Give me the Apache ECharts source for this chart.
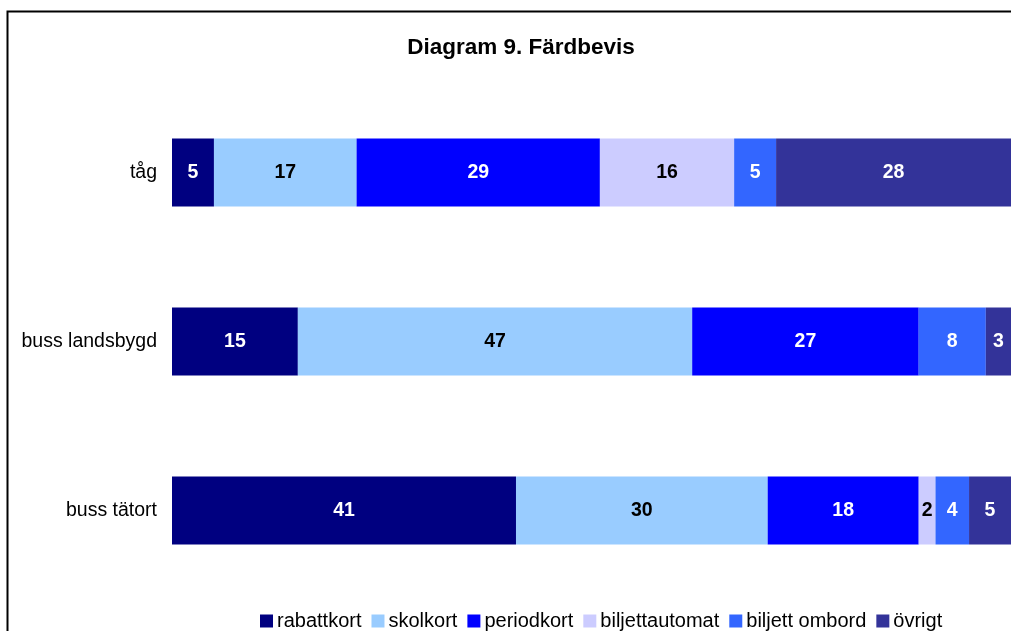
<!DOCTYPE html>
<html>
<head>
<meta charset="utf-8">
<script src="https://cdn.jsdelivr.net/npm/echarts@6/dist/echarts.min.js"></script>
<style>
  html, body { margin: 0; padding: 0; background: #fff; }
  #chart { width: 1011px; height: 631px; }
</style>
</head>
<body>
<div id="chart"></div>
<script>
// rader, nerifrån och upp (y-axeln ritas från botten)
const categories = ['buss tätort', 'buss landsbygd', 'tåg']
const seriesNames = ['rabattkort', 'skolkort', 'periodkort', 'biljettautomat', 'biljett ombord', 'övrigt']
const colors = ['#000080', '#99ccff', '#0000ff', '#ccccff', '#3366ff', '#333399']
const labelColors = ['#fff', '#000', '#fff', '#000', '#fff', '#fff']

const rabattkort = [41, 15, 5]
const skolkort = [30, 47, 17]
const periodkort = [18, 27, 29]
const biljettautomat = [2, 0, 16]
const biljettOmbord = [4, 8, 5]
const ovrigt = [5, 3, 28]

const values = [rabattkort, skolkort, periodkort, biljettautomat, biljettOmbord, ovrigt]

const chart = echarts.init(document.getElementById('chart'), null, { renderer: 'canvas' })

const font = 'Liberation Sans, Arial, sans-serif'

let option = {
  backgroundColor: '#fff',
  animation: false,
  title: {
    text: 'Diagram 9. Färdbevis',
    left: 516,
    top: 31,
    textAlign: 'center',
    textStyle: { fontFamily: font, fontSize: 22.5, fontWeight: 'bold', color: '#000' }
  },
  graphic: [{
    type: 'rect',
    shape: { x: 7.5, y: 11.5, width: 1100, height: 700 },
    style: { fill: 'none', stroke: '#000', lineWidth: 2 },
    silent: true
  }],
  legend: {
    data: seriesNames,
    left: 255,
    top: 606,
    itemWidth: 13,
    itemHeight: 13,
    itemGap: 10,
    icon: 'rect',
    textStyle: { fontFamily: font, fontSize: 20, color: '#000', padding: [0, 0, 0, -1] }
  },
  grid: {
    left: 172,
    width: 840,
    top: 88,
    height: 507
  },
  xAxis: {
    type: 'value',
    min: 0,
    max: 100,
    show: false
  },
  yAxis: {
    type: 'category',
    data: categories,
    axisLine: { show: false },
    axisTick: { show: false },
    axisLabel: { fontFamily: font, fontSize: 19.5, color: '#000', margin: 15 }
  },
  series: seriesNames.map((name, i) => ({
    name: name,
    type: 'bar',
    stack: 'total',
    barWidth: 68,
    itemStyle: { color: colors[i] },
    label: {
      show: true,
      position: 'inside',
      fontFamily: font,
      fontSize: 19.5,
      fontWeight: 'bold',
      color: labelColors[i],
      formatter: p => p.value ? String(p.value) : ''
    },
    data: values[i]
  }))
}

chart.setOption(option)
</script>
</body>
</html>
